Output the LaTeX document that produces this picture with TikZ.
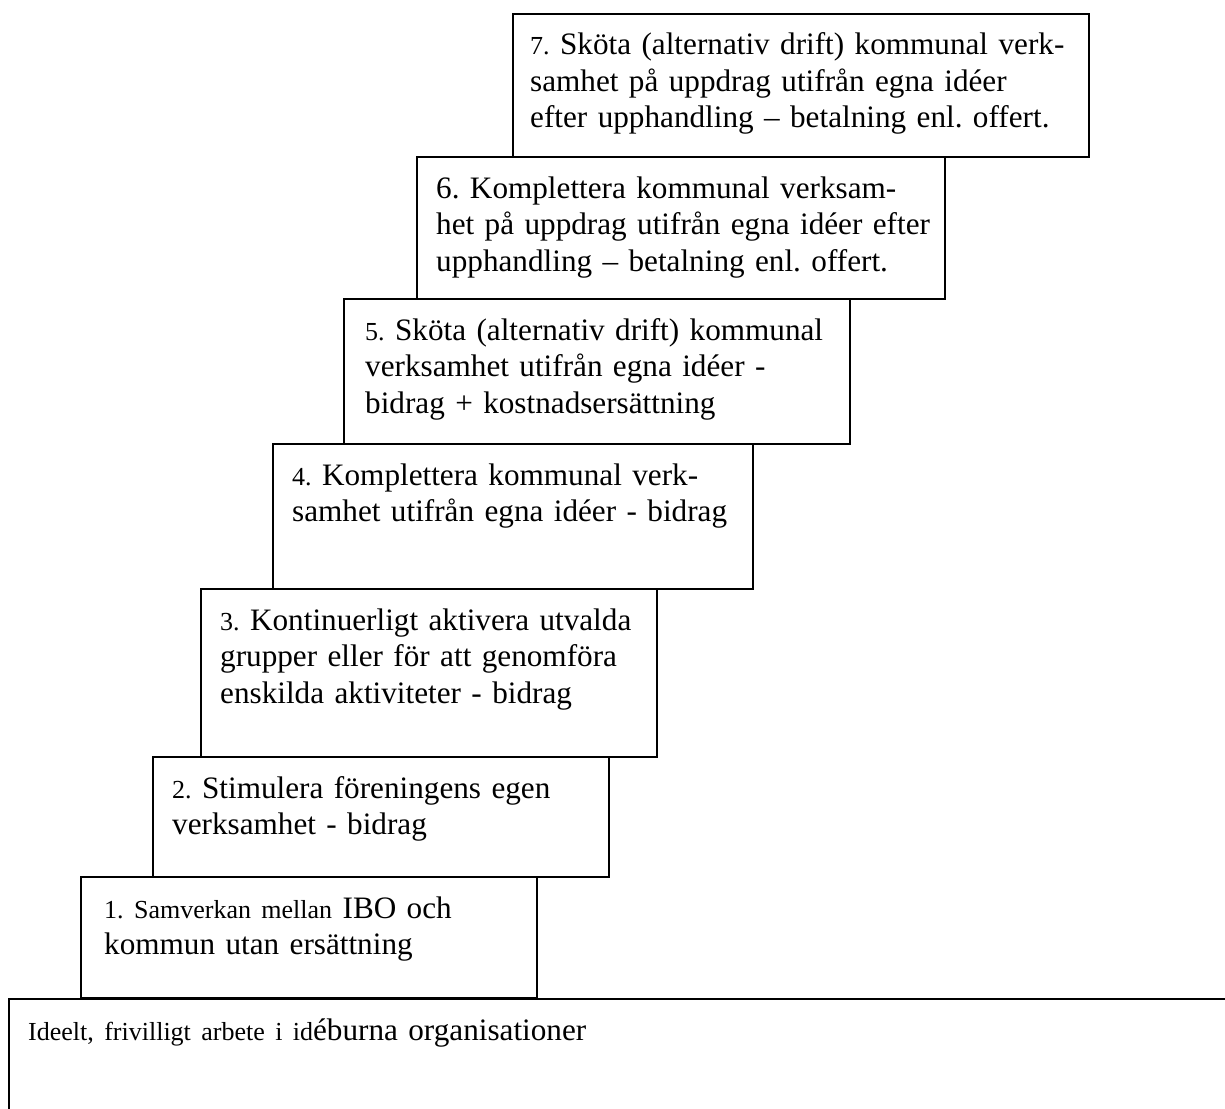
\documentclass[tikz,border=0pt]{standalone}
\usepackage{fontspec}
\setmainfont{Liberation Serif}
\usetikzlibrary{positioning}
\frenchspacing
\newcommand{\sm}[1]{{\fontsize{26}{36.5}\selectfont #1}}
\begin{document}
\begin{tikzpicture}
	[	x=1pt,y=-1pt,
	stepbox/.style={rectangle,draw=black,line width=1.8pt,anchor=north west,inner sep=0pt},
	steptext/.style={anchor=base west,inner sep=0pt,align=left,font=\fontsize{31.2}{36.5}\selectfont}
	]
	\useasboundingbox (0,0) rectangle (1225,1108);
	\clip (0,0) rectangle (1225,1108);
	% steps
	\node[stepbox,minimum width=1300pt,minimum height=200pt] (base) at (8,998){};
	\node[stepbox,minimum width=456pt,minimum height=121pt] (s1) at (80,876){};
	\node[stepbox,minimum width=456pt,minimum height=120pt] (s2) at (152,756){};
	\node[stepbox,minimum width=456pt,minimum height=168pt] (s3) at (200,588){};
	\node[stepbox,minimum width=480pt,minimum height=145pt] (s4) at (272,443){};
	\node[stepbox,minimum width=506pt,minimum height=145pt] (s5) at (343,298){};
	\node[stepbox,minimum width=528pt,minimum height=142pt] (s6) at (416,156){};
	\node[stepbox,minimum width=576pt,minimum height=143pt] (s7) at (512,13){};

	% texts
	\node[steptext,text width=1100pt] (tbase) at ([shift={(20pt,-42pt)}]base.north west)
		{\sm{Ideelt, frivilligt arbete i id}éburna organisationer};
	\node[steptext,text width=430pt] (t1) at ([shift={(24pt,-42pt)}]s1.north west)
		{\sm{1. Samverkan mellan} IBO och\\kommun utan ersättning};
	\node[steptext,text width=430pt] (t2) at ([shift={(20pt,-42pt)}]s2.north west)
		{\sm{2.} Stimulera föreningens egen\\verksamhet - bidrag};
	\node[steptext,text width=430pt] (t3) at ([shift={(20pt,-42pt)}]s3.north west)
		{\sm{3.} Kontinuerligt aktivera utvalda\\grupper eller för att genomföra\\enskilda aktiviteter - bidrag};
	\node[steptext,text width=460pt] (t4) at ([shift={(20pt,-42pt)}]s4.north west)
		{\sm{4.} Komplettera kommunal verk-\\samhet utifrån egna idéer - bidrag};
	\node[steptext,text width=480pt] (t5) at ([shift={(22pt,-42pt)}]s5.north west)
		{\sm{5.} Sköta (alternativ drift) kommunal\\verksamhet utifrån egna idéer -\\bidrag + kostnadsersättning};
	\node[steptext,text width=510pt] (t6) at ([shift={(20pt,-42pt)}]s6.north west)
		{6. Komplettera kommunal verksam-\\het på uppdrag utifrån egna idéer efter\\upphandling – betalning enl. offert.};
	\node[steptext,text width=560pt] (t7) at ([shift={(18pt,-42pt)}]s7.north west)
		{\sm{7.} Sköta (alternativ drift) kommunal verk-\\samhet på uppdrag utifrån egna idéer\\efter upphandling – betalning enl. offert.};
\end{tikzpicture}
\end{document}
